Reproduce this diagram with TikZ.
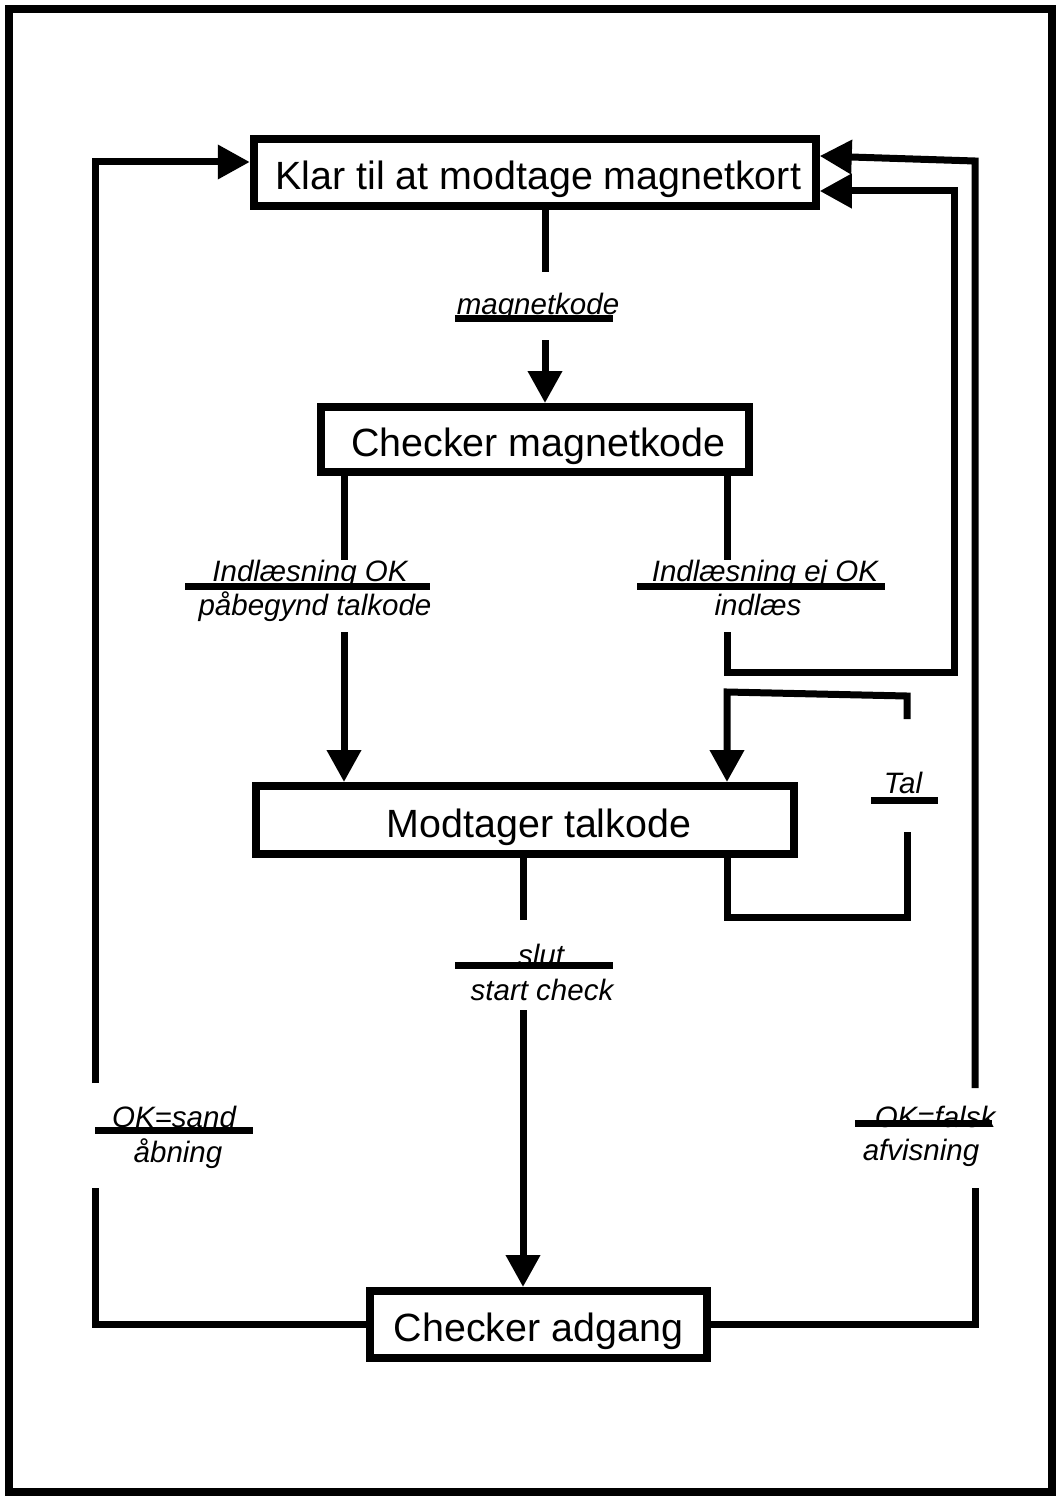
\documentclass[tikz,border=0pt]{standalone}
\usepackage{fontspec}
\setmainfont{Liberation Sans}
\usetikzlibrary{arrows.meta}
\begin{document}
\begin{tikzpicture}[x=1pt,y=-1pt,
  box/.style={draw,line width=8pt,inner sep=0pt,text height=36pt,text depth=2pt,font=\fontsize{39.4}{47}\selectfont},
  conn/.style={line width=7pt},
  arr/.style={conn,-{Triangle[length=32pt,width=33pt]}},
  lbl/.style={font=\fontsize{29.5}{35}\selectfont\itshape,inner sep=0pt,anchor=base},
  bar/.style={line width=7pt}]
\useasboundingbox (0,0) rectangle (1062,1498);
\draw[line width=8pt] (9,9) rectangle (1052,1492);

% boxes
\node[box,minimum width=562pt,minimum height=67pt] (k) at (534.75,172.5) {\hspace*{7pt}Klar til at modtage magnetkort};
\node[box,minimum width=428pt,minimum height=65pt] (c) at (535,439.5) {\hspace*{7pt}Checker magnetkode};
\node[box,minimum width=538pt,minimum height=68pt] (t) at (525,820) {\hspace*{28pt}Modtager talkode};
\node[box,minimum width=337pt,minimum height=67pt] (g) at (538.5,1324.5) {Checker adgang};

% waypoints
\coordinate (m1) at (545,272); \coordinate (m2) at (545,340);
\coordinate (a1) at (344,560); \coordinate (a2) at (344,632);
\coordinate (b1) at (727,560); \coordinate (b2) at (727,632);
\coordinate (b3) at (727,672); \coordinate (b4) at (954,672); \coordinate (b5) at (954,191);
\coordinate (r1) at (975,1088); \coordinate (r2) at (975,1188); \coordinate (r3) at (975,161); \coordinate (r4) at (830,156);
\coordinate (l1) at (95,1083); \coordinate (l2) at (95,1188); \coordinate (l3) at (95,162);
\coordinate (s1) at (523,920); \coordinate (s2) at (523,1010);
\coordinate (q1) at (727,692); \coordinate (q2) at (907,696); \coordinate (q3) at (907,719);
\coordinate (q4) at (907,832); \coordinate (q5) at (907,917); \coordinate (q6) at (727,917);

% connectors
\draw[conn] (k.south -| m1) -- (m1);
\draw[arr] (m2) -- (c.north -| m2);
\draw[conn] (c.south -| a1) -- (a1);
\draw[arr] (a2) -- (t.north -| a2);
\draw[conn] (c.south -| b1) -- (b1);
\draw[arr] (b2) -- (b3) -- (b4) -- (b5) -- (k.east |- b5);
\draw[conn] (g.east) -| (r2);
\draw[arr] (r1) -- (r3) -- (k.east |- r4);
\draw[conn] (g.west) -| (l2);
\draw[arr] (l1) -- (l3) -- (k.west |- l3);
\draw[conn] (t.south -| s1) -- (s1);
\draw[arr] (s2) -- (g.north -| s2);
\draw[arr] (q3) -- (q2) -- (q1) -- (t.north -| q1);
\draw[conn] (t.south -| q6) -- (q6) -- (q5) -- (q4);

% labels
\node[lbl] (lm) at (538,314) {magnetkode};
\node[lbl] (la1) at (310,581) {Indlæsning OK};
\node[lbl] (la2) at (315,615) {påbegynd talkode};
\node[lbl] (lb1) at (765,581) {Indlæsning ej OK};
\node[lbl] (lb2) at (758,615) {indlæs};
\node[lbl] (ls1) at (541,965) {slut};
\node[lbl] (ls2) at (542,1000) {start check};
\node[lbl] (ll1) at (174,1127) {OK=sand};
\node[lbl] (ll2) at (178,1162) {åbning};
\node[lbl] (lr1) at (935,1127) {OK=falsk};
\node[lbl] (lr2) at (921,1160) {afvisning};
\node[lbl] (lq) at (903,793) {Tal};

% label bars
\coordinate (bmL) at (455,318); \coordinate (bmR) at (613,318);
\coordinate (baL) at (185,586); \coordinate (baR) at (430,586);
\coordinate (bbL) at (637,586); \coordinate (bbR) at (885,586);
\coordinate (bsL) at (455,965); \coordinate (bsR) at (613,965);
\coordinate (blL) at (95,1130); \coordinate (blR) at (253,1130);
\coordinate (brL) at (855,1123); \coordinate (brR) at (992,1123);
\coordinate (bqL) at (871,800); \coordinate (bqR) at (938,800);
\draw[bar] (bmL) -- (bmR);
\draw[bar] (baL) -- (baR);
\draw[bar] (bbL) -- (bbR);
\draw[bar] (bsL) -- (bsR);
\draw[bar] (blL) -- (blR);
\draw[bar] (brL) -- (brR);
\draw[bar] (bqL) -- (bqR);
\end{tikzpicture}
\end{document}
